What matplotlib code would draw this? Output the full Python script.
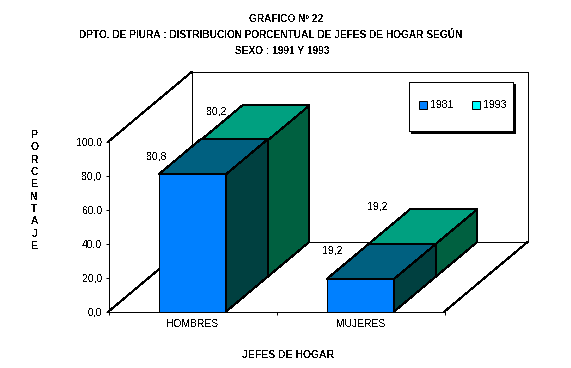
#!/usr/bin/env python3
import matplotlib
matplotlib.use('Agg')
import matplotlib.pyplot as plt
from matplotlib.patches import Patch, Polygon, Rectangle

categories = ['HOMBRES', 'MUJERES']
series_names = ['1981', '1993']
values_1981 = [80.8, 19.2]
values_1993 = [80.2, 19.2]
value_labels_1981 = ['80,8', '19,2']
value_labels_1993 = ['80,2', '19,2']
y_ticks = [0, 20, 40, 60, 80, 100]
y_tick_labels = ['0,0', '20,0', '40,0', '60,0', '80,0', '100,0']
title_lines = ['GRAFICO Nº 22',
               'DPTO. DE PIURA : DISTRIBUCION PORCENTUAL DE JEFES DE HOGAR SEGÚN',
               'SEXO : 1991 Y 1993']

W, H = 571, 368
plt.rcParams['font.family'] = ['Liberation Sans', 'DejaVu Sans']
plt.rcParams['text.antialiased'] = False

# oblique depth of the fake 3d box, in data units
DX = 0.496
DY = 41.0
BAR_W = 0.40
EDGE = 0.72

fig = plt.figure(figsize=(W / 100, H / 100), dpi=100)
ax = fig.add_axes([108.5 / W, (H - 311.5) / H, 336 / W, 170 / H])
ax.set_xlim(0, 2)
ax.set_ylim(0, 100)


def pt(x, y, d):
    return (x + d * DX, y + d * DY)


def face(pts, color, z):
    ax.add_patch(Polygon(pts, closed=True, facecolor=color, edgecolor='black',
                         linewidth=EDGE, clip_on=False, zorder=z, antialiased=False))


def wall_line(a, b):
    ax.plot([a[0], b[0]], [a[1], b[1]], color='black', lw=EDGE, clip_on=False, zorder=1,
            antialiased=False)


# back wall and floor
wall_line(pt(0, 100, 0), pt(0, 100, 1))
wall_line(pt(0, 0, 0), pt(0, 0, 1))
wall_line(pt(0, 0, 1), pt(0, 100, 1))
wall_line(pt(0, 100, 1), pt(2, 100, 1))
wall_line(pt(2, 100, 1), pt(2, 0, 1))
wall_line(pt(0, 0, 1), pt(2, 0, 1))
wall_line(pt(2, 0, 0), pt(2, 0, 1))


def bar3d(center, value, d0, d1, front, top, side, z):
    x0 = center - BAR_W / 2
    x1 = center + BAR_W / 2
    face([pt(x0, 0, d0), pt(x1, 0, d0), pt(x1, value, d0), pt(x0, value, d0)], front, z)
    face([pt(x1, 0, d0), pt(x1, 0, d1), pt(x1, value, d1), pt(x1, value, d0)], side, z)
    face([pt(x0, value, d0), pt(x1, value, d0), pt(x1, value, d1), pt(x0, value, d1)], top, z)


centers = [i + 0.5 for i in range(len(categories))]
for c, v in zip(centers, values_1993):
    bar3d(c, v, 0.5, 1, '#00FFFF', '#00A080', '#006040', 3)
for c, v in zip(centers, values_1981):
    bar3d(c, v, 0, 0.5, '#0080FF', '#006080', '#004040', 4)

# value labels sit up and left of each bar top
offsets_1981 = [(-36, 17.5), (-28, 28)]
offsets_1993 = [(-17, 29), (-25, 38)]
for c, v, s, o in zip(centers, values_1981, value_labels_1981, offsets_1981):
    ax.annotate(s, pt(c, v, 0), xytext=(o[0] * 0.72, o[1] * 0.72), textcoords='offset points',
                ha='center', va='center', fontsize=7.5, zorder=6, annotation_clip=False)
for c, v, s, o in zip(centers, values_1993, value_labels_1993, offsets_1993):
    ax.annotate(s, pt(c, v, 0.5), xytext=(o[0] * 0.72, o[1] * 0.72), textcoords='offset points',
                ha='center', va='center', fontsize=7.5, zorder=6, annotation_clip=False)

for s in ['top', 'right']:
    ax.spines[s].set_visible(False)
for s in ['left', 'bottom']:
    ax.spines[s].set_linewidth(EDGE)
    ax.spines[s].set_zorder(5)
ax.patch.set_visible(False)
ax.set_yticks(y_ticks)
ax.set_yticklabels(y_tick_labels, fontsize=7.5)
ax.set_xticks([0, 1, 2])
ax.set_xticklabels([])
ax.set_xticks(centers, labels=categories, minor=True, fontsize=7.4)
ax.tick_params(axis='x', which='minor', length=0, pad=5.5)
ax.tick_params(axis='both', which='major', length=2.5, width=0.72, pad=2)

# legend box with hard shadow, then a frameless legend inside it
ax.add_patch(Rectangle((411 / W, 1 - 133 / H), 104 / W, 49 / H, transform=fig.transFigure,
                       facecolor='black', edgecolor='black', lw=EDGE, clip_on=False,
                       zorder=7, antialiased=False))
ax.add_patch(Rectangle((409 / W, 1 - 131 / H), 104 / W, 49 / H, transform=fig.transFigure,
                       facecolor='white', edgecolor='black', lw=EDGE, clip_on=False,
                       zorder=7, antialiased=False))
handles = [Patch(facecolor='#0080FF', edgecolor='black', lw=EDGE),
           Patch(facecolor='#00FFFF', edgecolor='black', lw=EDGE)]
leg = ax.legend(handles, series_names, ncol=2, loc='center left', fontsize=7.5,
                bbox_to_anchor=(419 / W, 1 - 105.5 / H), bbox_transform=fig.transFigure,
                frameon=False, borderaxespad=0, borderpad=0, handlelength=0.77,
                handleheight=0.77, handletextpad=0.3, columnspacing=1.8)
leg.set_zorder(8)

# title lines are not quite centred on each other in the original
for line, x, y in zip(title_lines, [286.5, 270.5, 282], [19.5, 35.5, 51.5]):
    fig.text(x / W, 1 - y / H, line, ha='center', va='center', fontsize=7.3, fontweight='bold')
fig.text(288 / W, 1 - 355 / H, 'JEFES DE HOGAR', ha='center', va='center', fontsize=7.5,
         fontweight='bold')
fig.text(34.5 / W, 1 - 190.5 / H, '\n'.join('PORCENTAJE'), ha='center', va='center',
         fontsize=7.5, fontweight='bold', linespacing=1.29)

fig.savefig('out.png', dpi=100)
